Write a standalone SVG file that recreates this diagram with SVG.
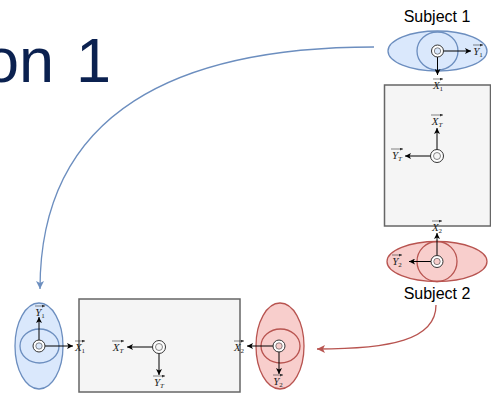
<svg xmlns="http://www.w3.org/2000/svg" width="491" height="394" viewBox="0 0 491 394">
<defs>
<style>
.bg{fill:#ffffff}
.blue{fill:#dae8fc;stroke:#6c8ebf;stroke-width:1.3}
.red{fill:#f8cecc;stroke:#b85450;stroke-width:1.3}
.bluein{fill:none;stroke:#6c8ebf;stroke-width:1.3}
.redin{fill:none;stroke:#b85450;stroke-width:1.3}
.box{fill:#f5f5f5;stroke:#666666;stroke-width:1.5}
.tgo{fill:#ffffff;stroke:#333333;stroke-width:1}
.tgi{stroke:#555555;stroke-width:0.7}
.ax{fill:none;stroke:#000000;stroke-width:1;marker-end:url(#ah)}
.lbl{font-family:"Liberation Serif","DejaVu Serif",serif;font-style:italic;font-size:11px;fill:#222222;text-anchor:middle}
.sub{font-size:7px}
.num{font-style:normal}
.oa{fill:none;stroke:#333333;stroke-width:0.6;marker-end:url(#oah)}
.subj{font-family:"Liberation Sans",Arial,sans-serif;font-size:16px;fill:#000000;text-anchor:middle}
.title{font-family:"Liberation Sans",Arial,sans-serif;font-size:63px;fill:#0b2150}
.cb{fill:none;stroke:#6c8ebf;stroke-width:1.3;marker-end:url(#cbh)}
.cr{fill:none;stroke:#b85450;stroke-width:1.3;marker-end:url(#crh)}
</style>
<marker id="ah" markerUnits="userSpaceOnUse" markerWidth="7" markerHeight="6" refX="6" refY="3" orient="auto">
<path d="M0,0 L6,3 L0,6 L1.5,3 Z" fill="#000000"/>
</marker>
<marker id="oah" markerUnits="userSpaceOnUse" markerWidth="4" markerHeight="4" refX="3" refY="1.5" orient="auto">
<path d="M0,0 L3,1.5 L0,3 Z" fill="#333333"/>
</marker>
<marker id="cbh" markerUnits="userSpaceOnUse" markerWidth="10" markerHeight="8" refX="8" refY="4" orient="auto">
<path d="M0,0 L8,4 L0,8 L2,4 Z" fill="#6c8ebf"/>
</marker>
<marker id="crh" markerUnits="userSpaceOnUse" markerWidth="10" markerHeight="8" refX="8" refY="4" orient="auto">
<path d="M0,0 L8,4 L0,8 L2,4 Z" fill="#b85450"/>
</marker>
</defs>
<rect class="bg" x="0" y="0" width="491" height="394"/>

<g id="title">
<text class="title" x="-16" y="82">on<tspan x="76">1</tspan></text>
</g>

<g id="connectors">
<path class="cb" d="M374,47 C180,47 40,110 40,289"/>
<path class="cr" d="M436,305 C436,340 390,349 317,349"/>
</g>

<g id="subject1">
<text class="subj" x="437" y="22">Subject 1</text>
<ellipse class="blue" cx="437.5" cy="51" rx="49.5" ry="20"/>
<ellipse class="bluein" cx="437.5" cy="51" rx="20.5" ry="19"/>
<path class="ax" d="M437.5,51 H471"/>
<path class="ax" d="M437.5,51 V75"/>
<circle class="tgo" cx="437.5" cy="51" r="6"/>
<circle class="tgi" cx="437.5" cy="51" r="3.2" fill="#dae8fc"/>
<g class="lbl" transform="translate(478,55)"><text>Y<tspan class="sub num" dy="2">1</tspan></text><path class="oa" d="M-5,-10 H5"/></g>
</g>

<g id="frameTop">
<rect class="box" x="384.5" y="85" width="106" height="141"/>
<path class="ax" d="M437,156 V128"/>
<path class="ax" d="M437,156 H405"/>
<circle class="tgo" cx="437" cy="156" r="6.5"/>
<circle class="tgi" cx="437" cy="156" r="3.5" fill="#f5f5f5"/>
<g class="lbl" transform="translate(438,89)"><text>X<tspan class="sub num" dy="2">1</tspan></text><path class="oa" d="M-5,-10 H5"/></g>
<g class="lbl" transform="translate(437,125)"><text>X<tspan class="sub" dy="2">T</tspan></text><path class="oa" d="M-6,-10 H6"/></g>
<g class="lbl" transform="translate(397,159)"><text>Y<tspan class="sub" dy="2">T</tspan></text><path class="oa" d="M-6,-10 H6"/></g>
<g class="lbl" transform="translate(437,231)"><text>X<tspan class="sub num" dy="2">2</tspan></text><path class="oa" d="M-5,-10 H5"/></g>
</g>

<g id="subject2">
<ellipse class="red" cx="437" cy="261.5" rx="50" ry="20"/>
<ellipse class="redin" cx="437" cy="261.5" rx="20" ry="20"/>
<path class="ax" d="M437,261.5 V233"/>
<path class="ax" d="M437,261.5 H409"/>
<circle class="tgo" cx="437" cy="261.5" r="6"/>
<circle class="tgi" cx="437" cy="261.5" r="3.2" fill="#f8cecc"/>
<g class="lbl" transform="translate(397,265)"><text>Y<tspan class="sub num" dy="2">2</tspan></text><path class="oa" d="M-5,-10 H5"/></g>
<text class="subj" x="437" y="299">Subject 2</text>
</g>

<g id="subject1Left">
<ellipse class="blue" cx="39" cy="346" rx="24" ry="43"/>
<ellipse class="bluein" cx="39.5" cy="346" rx="19.5" ry="17"/>
<path class="ax" d="M39,346 V317"/>
<path class="ax" d="M39,346 H73"/>
<circle class="tgo" cx="39" cy="346" r="6"/>
<circle class="tgi" cx="39" cy="346" r="3.2" fill="#dae8fc"/>
<g class="lbl" transform="translate(40,316)"><text>Y<tspan class="sub num" dy="2">1</tspan></text><path class="oa" d="M-5,-10 H5"/></g>
</g>

<g id="frameBottom">
<rect class="box" x="79" y="299" width="161" height="93"/>
<path class="ax" d="M159,347 H127"/>
<path class="ax" d="M159,347 V375"/>
<circle class="tgo" cx="159" cy="347" r="6.5"/>
<circle class="tgi" cx="159" cy="347" r="3.5" fill="#f5f5f5"/>
<g class="lbl" transform="translate(80,351)"><text>X<tspan class="sub num" dy="2">1</tspan></text><path class="oa" d="M-5,-10 H5"/></g>
<g class="lbl" transform="translate(118,351)"><text>X<tspan class="sub" dy="2">T</tspan></text><path class="oa" d="M-6,-10 H6"/></g>
<g class="lbl" transform="translate(159,386)"><text>Y<tspan class="sub" dy="2">T</tspan></text><path class="oa" d="M-6,-10 H6"/></g>
<g class="lbl" transform="translate(239,351)"><text>X<tspan class="sub num" dy="2">2</tspan></text><path class="oa" d="M-5,-10 H5"/></g>
</g>

<g id="subject2Right">
<ellipse class="red" cx="280" cy="346" rx="24" ry="43"/>
<ellipse class="redin" cx="280.5" cy="346" rx="19.5" ry="17"/>
<path class="ax" d="M279,346 H247"/>
<path class="ax" d="M279,346 V374"/>
<circle class="tgo" cx="279" cy="346" r="6"/>
<circle class="tgi" cx="279" cy="346" r="3.2" fill="#f8cecc"/>
<g class="lbl" transform="translate(278,385)"><text>Y<tspan class="sub num" dy="2">2</tspan></text><path class="oa" d="M-5,-10 H5"/></g>
</g>
</svg>
